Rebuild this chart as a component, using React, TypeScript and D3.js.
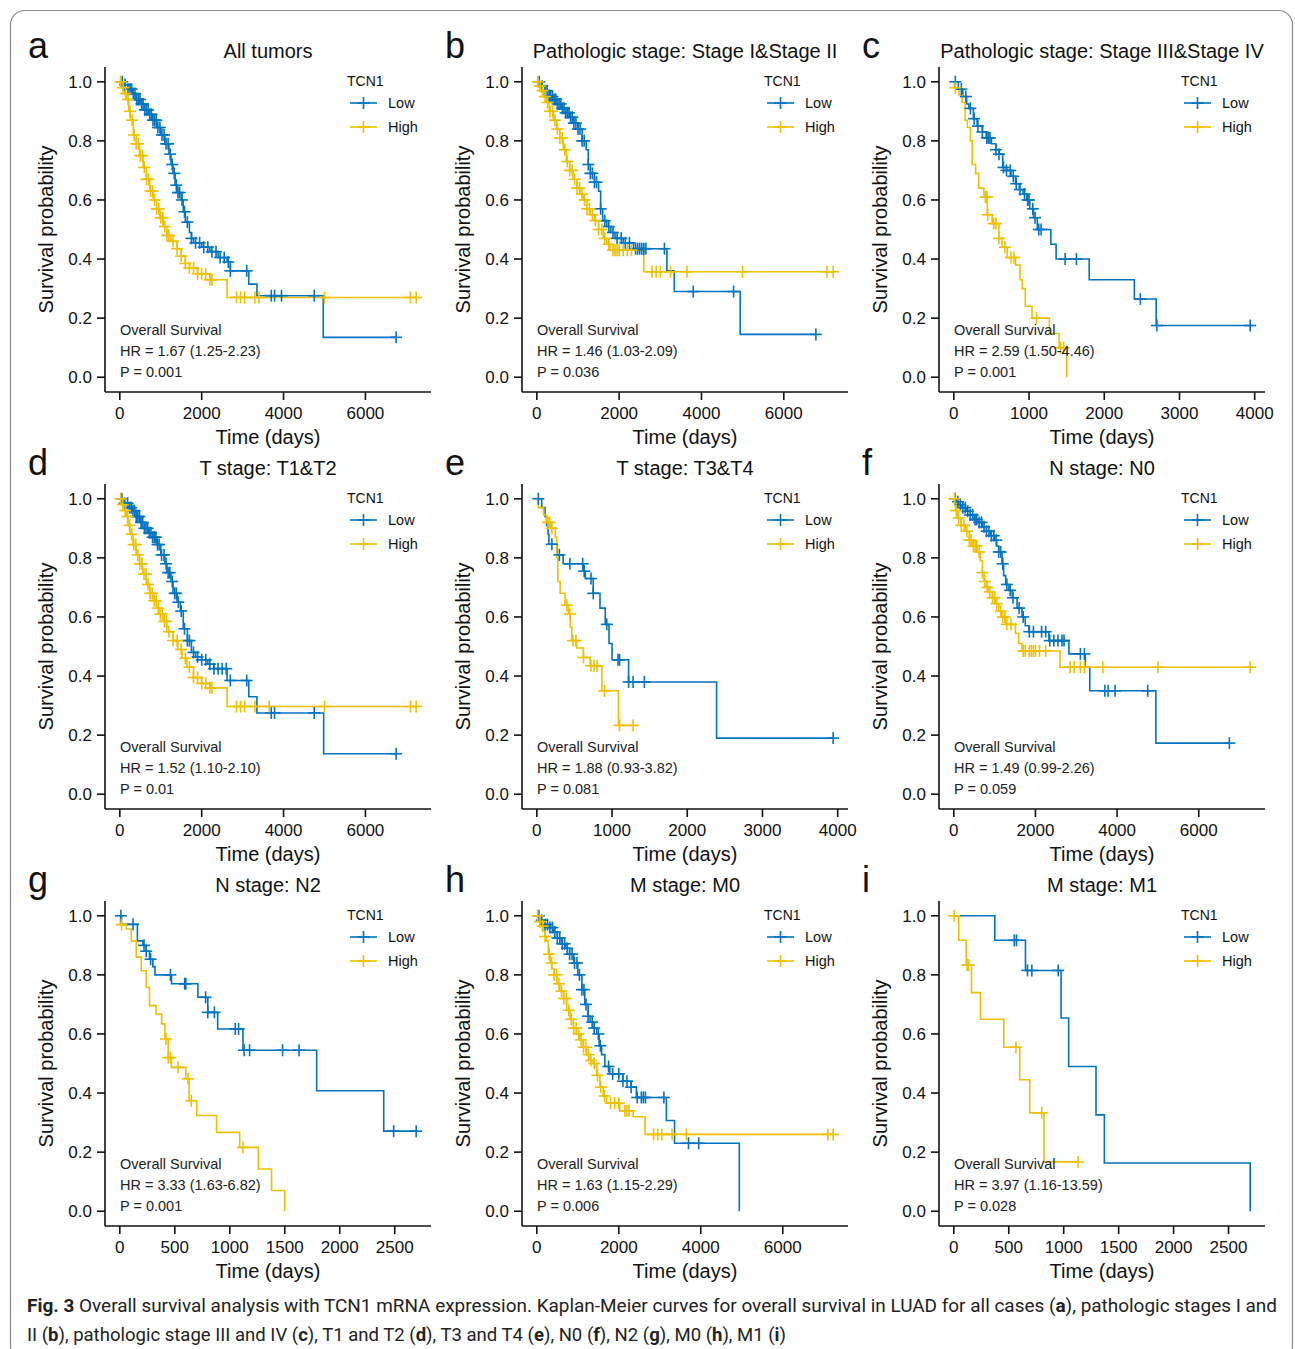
import * as d3 from 'd3'

const BLUE = '#0073C2'
const YELLOW = '#EFC000'
const FONT = "'Liberation Sans', Arial, Helvetica, sans-serif"

// step points [days, survival]; censor marks as days
const lowA = [[0, 1], [100, 0.99], [200, 0.975], [300, 0.96], [400, 0.94], [500, 0.925], [600, 0.905], [700, 0.89], [800, 0.87], [900, 0.845], [1000, 0.82], [1100, 0.79], [1200, 0.755], [1250, 0.72], [1300, 0.69], [1350, 0.65], [1400, 0.625], [1500, 0.6], [1550, 0.56], [1600, 0.525], [1700, 0.49], [1750, 0.47], [1800, 0.455], [2000, 0.44], [2200, 0.425], [2400, 0.405], [2620, 0.39], [2700, 0.36], [3150, 0.315], [3350, 0.276], [4970, 0.135]]
const highA = [[0, 1], [50, 0.98], [120, 0.96], [170, 0.94], [220, 0.9], [260, 0.87], [330, 0.82], [400, 0.79], [480, 0.75], [570, 0.71], [650, 0.67], [730, 0.63], [820, 0.6], [900, 0.57], [980, 0.54], [1060, 0.51], [1150, 0.48], [1250, 0.46], [1400, 0.435], [1500, 0.41], [1600, 0.385], [1700, 0.37], [1900, 0.35], [2200, 0.33], [2620, 0.27]]
const lowCensA = [60, 130, 200, 250, 290, 330, 370, 410, 450, 490, 530, 570, 610, 650, 690, 730, 770, 810, 850, 890, 930, 980, 1030, 1080, 1130, 1180, 1230, 1280, 1330, 1380, 1420, 1460, 1520, 1580, 1650, 1750, 1850, 1950, 2050, 2150, 2250, 2350, 2450, 2550, 2650, 2700, 3100, 3700, 3780, 3950, 4750, 6750]
const highCensA = [20, 80, 140, 200, 250, 300, 350, 400, 450, 500, 550, 600, 650, 700, 750, 800, 850, 900, 950, 1000, 1050, 1100, 1150, 1200, 1300, 1400, 1500, 1600, 1700, 1800, 1900, 2000, 2100, 2200, 2250, 2850, 2950, 3050, 3300, 3400, 5000, 7100, 7240]

const lowB = [[0, 1], [100, 0.985], [200, 0.97], [300, 0.95], [400, 0.94], [500, 0.925], [600, 0.91], [700, 0.895], [800, 0.88], [900, 0.86], [1000, 0.84], [1100, 0.8], [1200, 0.77], [1250, 0.72], [1300, 0.69], [1400, 0.66], [1500, 0.63], [1550, 0.57], [1600, 0.53], [1700, 0.51], [1800, 0.49], [1900, 0.47], [2100, 0.455], [2350, 0.435], [3160, 0.36], [3340, 0.29], [4940, 0.145]]
const highB = [[0, 1], [50, 0.985], [100, 0.97], [160, 0.95], [230, 0.93], [300, 0.9], [400, 0.87], [480, 0.84], [560, 0.81], [640, 0.77], [720, 0.73], [800, 0.7], [880, 0.67], [970, 0.64], [1050, 0.62], [1130, 0.6], [1220, 0.57], [1300, 0.55], [1400, 0.53], [1500, 0.5], [1620, 0.47], [1700, 0.45], [1780, 0.43], [2600, 0.357]]
const lowCensB = [60, 130, 200, 250, 300, 340, 380, 420, 460, 500, 540, 580, 620, 660, 700, 740, 780, 820, 860, 900, 950, 1000, 1050, 1100, 1150, 1250, 1300, 1350, 1400, 1450, 1550, 1650, 1750, 1850, 1950, 2050, 2150, 2250, 2400, 2450, 2500, 2550, 2600, 2650, 3100, 3800, 4780, 6780]
const highCensB = [20, 80, 140, 200, 260, 320, 380, 440, 500, 560, 620, 680, 740, 800, 860, 920, 980, 1040, 1100, 1160, 1220, 1280, 1350, 1420, 1500, 1580, 1650, 1750, 1850, 1900, 1950, 2000, 2100, 2200, 2300, 2800, 2900, 3000, 3250, 3650, 5000, 7050, 7200]

const lowC = [[0, 1], [60, 0.975], [120, 0.95], [170, 0.925], [200, 0.91], [260, 0.875], [310, 0.85], [380, 0.83], [430, 0.81], [500, 0.79], [560, 0.77], [600, 0.755], [650, 0.71], [700, 0.7], [760, 0.68], [820, 0.655], [870, 0.635], [920, 0.62], [970, 0.6], [1010, 0.57], [1060, 0.54], [1110, 0.5], [1290, 0.45], [1360, 0.4], [1800, 0.33], [2400, 0.265], [2690, 0.175]]
const highC = [[0, 1], [5, 0.98], [70, 0.955], [110, 0.93], [150, 0.87], [180, 0.845], [220, 0.8], [245, 0.72], [290, 0.69], [330, 0.64], [400, 0.61], [445, 0.55], [510, 0.52], [600, 0.47], [640, 0.44], [710, 0.405], [820, 0.38], [880, 0.33], [910, 0.3], [950, 0.24], [1040, 0.2], [1270, 0.148], [1400, 0.1], [1500, 0]]
const lowCensC = [20, 100, 160, 220, 270, 320, 380, 440, 460, 480, 560, 600, 660, 700, 750, 790, 830, 880, 940, 980, 1000, 1050, 1080, 1130, 1160, 1480, 1630, 2480, 2700, 3940]
const highCensC = [20, 420, 440, 450, 530, 560, 600, 680, 760, 800, 1100, 1420, 1460]

const lowD = [[0, 1], [100, 0.985], [200, 0.97], [300, 0.96], [400, 0.94], [500, 0.92], [600, 0.9], [700, 0.885], [800, 0.87], [900, 0.845], [1000, 0.81], [1100, 0.78], [1150, 0.75], [1250, 0.72], [1300, 0.68], [1400, 0.65], [1480, 0.62], [1550, 0.56], [1650, 0.52], [1750, 0.48], [1850, 0.465], [2000, 0.455], [2150, 0.44], [2300, 0.425], [2620, 0.385], [3150, 0.33], [3350, 0.275], [4980, 0.137]]
const highD = [[0, 1], [50, 0.98], [110, 0.96], [160, 0.94], [200, 0.91], [250, 0.88], [320, 0.845], [400, 0.81], [480, 0.78], [560, 0.745], [650, 0.71], [730, 0.68], [820, 0.655], [900, 0.63], [980, 0.61], [1060, 0.585], [1150, 0.55], [1300, 0.52], [1420, 0.49], [1520, 0.46], [1640, 0.43], [1800, 0.395], [2000, 0.375], [2200, 0.36], [2620, 0.297]]
const lowCensD = [50, 120, 190, 240, 280, 320, 360, 400, 440, 480, 520, 560, 600, 640, 680, 720, 760, 800, 840, 880, 920, 960, 1020, 1080, 1130, 1180, 1220, 1280, 1340, 1380, 1430, 1500, 1580, 1650, 1700, 1800, 1900, 2000, 2100, 2200, 2300, 2400, 2500, 2600, 2700, 3100, 3700, 3780, 4750, 6750]
const highCensD = [20, 70, 130, 190, 240, 290, 340, 390, 440, 490, 540, 590, 640, 690, 740, 790, 840, 890, 940, 990, 1040, 1090, 1140, 1200, 1300, 1400, 1500, 1600, 1700, 1800, 1900, 2000, 2100, 2200, 2250, 2850, 2950, 3050, 3300, 3650, 5000, 7100, 7240]

const lowE = [[0, 1], [65, 0.97], [110, 0.94], [130, 0.91], [150, 0.88], [160, 0.846], [270, 0.81], [350, 0.78], [620, 0.755], [645, 0.73], [750, 0.68], [840, 0.63], [910, 0.575], [960, 0.51], [1000, 0.455], [1220, 0.38], [2390, 0.19]]
const highE = [[0, 1], [20, 0.97], [90, 0.945], [130, 0.92], [180, 0.9], [245, 0.87], [265, 0.8], [280, 0.72], [310, 0.68], [375, 0.64], [420, 0.61], [445, 0.565], [465, 0.52], [530, 0.495], [620, 0.463], [710, 0.435], [865, 0.35], [1085, 0.233]]
const lowCensE = [20, 200, 300, 440, 610, 630, 720, 750, 930, 1080, 1100, 1220, 1280, 1430, 3940]
const highCensE = [150, 170, 200, 400, 440, 480, 520, 620, 720, 760, 800, 900, 1100, 1280]

const lowF = [[0, 1], [60, 0.99], [120, 0.98], [200, 0.97], [300, 0.958], [400, 0.945], [500, 0.93], [600, 0.92], [700, 0.905], [800, 0.89], [900, 0.875], [1000, 0.86], [1050, 0.84], [1100, 0.82], [1180, 0.78], [1220, 0.74], [1270, 0.71], [1350, 0.69], [1430, 0.665], [1550, 0.63], [1670, 0.6], [1750, 0.57], [1840, 0.55], [2330, 0.52], [2820, 0.475], [3220, 0.43], [3330, 0.35], [4950, 0.173]]
const highF = [[0, 1], [40, 0.96], [100, 0.935], [180, 0.91], [280, 0.89], [380, 0.86], [450, 0.84], [570, 0.82], [650, 0.79], [700, 0.75], [740, 0.72], [800, 0.7], [860, 0.685], [940, 0.665], [1020, 0.645], [1100, 0.62], [1180, 0.6], [1270, 0.575], [1510, 0.545], [1590, 0.51], [1670, 0.485], [2600, 0.43]]
const lowCensF = [30, 100, 160, 220, 280, 340, 400, 460, 520, 560, 620, 680, 740, 800, 860, 920, 980, 1040, 1100, 1150, 1200, 1300, 1380, 1450, 1600, 1700, 1850, 1950, 2150, 2250, 2350, 2450, 2550, 2650, 2700, 3100, 3200, 3700, 3780, 3950, 4750, 6750]
const highCensF = [20, 60, 120, 180, 250, 320, 380, 420, 480, 520, 560, 620, 700, 760, 820, 880, 950, 1000, 1050, 1150, 1200, 1250, 1300, 1400, 1700, 1750, 1850, 1900, 1950, 2000, 2100, 2250, 2850, 2950, 3100, 3200, 3650, 5000, 7260]

const lowG = [[0, 1], [15, 0.971], [160, 0.915], [210, 0.9], [240, 0.88], [270, 0.853], [300, 0.828], [320, 0.8], [470, 0.77], [710, 0.724], [800, 0.673], [890, 0.617], [1120, 0.545], [1790, 0.408], [2400, 0.271]]
const highG = [[0, 1], [5, 0.97], [60, 0.955], [105, 0.915], [150, 0.86], [195, 0.814], [240, 0.758], [270, 0.696], [330, 0.667], [380, 0.634], [410, 0.583], [440, 0.52], [470, 0.487], [600, 0.448], [630, 0.374], [700, 0.324], [880, 0.267], [1090, 0.216], [1260, 0.143], [1380, 0.07], [1500, 0]]
const lowCensG = [10, 120, 220, 240, 280, 460, 590, 600, 780, 800, 860, 1050, 1080, 1130, 1180, 1480, 1630, 2490, 2695]
const highCensG = [15, 420, 440, 460, 530, 620, 650, 1120]

const lowH = [[0, 1], [100, 0.985], [200, 0.97], [300, 0.96], [400, 0.945], [500, 0.925], [600, 0.905], [700, 0.89], [800, 0.87], [900, 0.84], [1000, 0.8], [1100, 0.75], [1170, 0.7], [1250, 0.66], [1300, 0.64], [1400, 0.62], [1460, 0.6], [1520, 0.56], [1580, 0.53], [1660, 0.49], [1780, 0.465], [2100, 0.44], [2300, 0.42], [2430, 0.385], [3160, 0.307], [3360, 0.23], [4940, 0]]
const highH = [[0, 1], [50, 0.98], [100, 0.965], [160, 0.95], [200, 0.93], [240, 0.915], [280, 0.87], [330, 0.84], [370, 0.82], [420, 0.8], [490, 0.77], [560, 0.745], [650, 0.72], [730, 0.68], [810, 0.65], [890, 0.62], [970, 0.6], [1050, 0.58], [1130, 0.555], [1220, 0.53], [1300, 0.51], [1380, 0.5], [1460, 0.46], [1540, 0.42], [1620, 0.39], [1700, 0.366], [2020, 0.34], [2350, 0.32], [2640, 0.26]]
const lowCensH = [50, 120, 200, 260, 320, 380, 440, 500, 560, 620, 680, 740, 800, 860, 920, 980, 1040, 1100, 1150, 1200, 1250, 1350, 1400, 1500, 1550, 1750, 1850, 2000, 2100, 2200, 2300, 2450, 2550, 2600, 2650, 3100, 3700, 3950]
const highCensH = [20, 80, 140, 200, 300, 360, 420, 480, 540, 600, 660, 720, 780, 840, 900, 960, 1020, 1080, 1140, 1200, 1260, 1320, 1400, 1480, 1560, 1650, 1800, 1900, 2000, 2150, 2200, 2250, 2850, 2950, 3050, 3300, 3650, 7100, 7230]

const lowI = [[0, 1], [373, 0.917], [652, 0.815], [976, 0.654], [1045, 0.49], [1294, 0.326], [1370, 0.163], [2697, 0]]
const highI = [[0, 1], [45, 0.917], [112, 0.833], [161, 0.74], [242, 0.65], [455, 0.555], [600, 0.445], [691, 0.333], [820, 0.167]]
const lowCensI = [550, 570, 670, 710, 950]
const highCensI = [3, 120, 135, 565, 800, 1130]

const ticksLong = [0, 2000, 4000, 6000]
const ticksMid = [0, 1000, 2000, 3000, 4000]
const ticksShort = [0, 500, 1000, 1500, 2000, 2500]
const yTicks = [0, 0.2, 0.4, 0.6, 0.8, 1]

const panels = [
  { letter: 'a', title: 'All tumors', low: lowA, high: highA, lowCens: lowCensA, highCens: highCensA, ticks: ticksLong, hr: 'HR = 1.67 (1.25-2.23)', p: 'P = 0.001' },
  { letter: 'b', title: 'Pathologic stage: Stage I&Stage II', low: lowB, high: highB, lowCens: lowCensB, highCens: highCensB, ticks: ticksLong, hr: 'HR = 1.46 (1.03-2.09)', p: 'P = 0.036' },
  { letter: 'c', title: 'Pathologic stage: Stage III&Stage IV', low: lowC, high: highC, lowCens: lowCensC, highCens: highCensC, ticks: ticksMid, hr: 'HR = 2.59 (1.50-4.46)', p: 'P = 0.001' },
  { letter: 'd', title: 'T stage: T1&T2', low: lowD, high: highD, lowCens: lowCensD, highCens: highCensD, ticks: ticksLong, hr: 'HR = 1.52 (1.10-2.10)', p: 'P = 0.01' },
  { letter: 'e', title: 'T stage: T3&T4', low: lowE, high: highE, lowCens: lowCensE, highCens: highCensE, ticks: ticksMid, hr: 'HR = 1.88 (0.93-3.82)', p: 'P = 0.081' },
  { letter: 'f', title: 'N stage: N0', low: lowF, high: highF, lowCens: lowCensF, highCens: highCensF, ticks: ticksLong, hr: 'HR = 1.49 (0.99-2.26)', p: 'P = 0.059' },
  { letter: 'g', title: 'N stage: N2', low: lowG, high: highG, lowCens: lowCensG, highCens: highCensG, ticks: ticksShort, hr: 'HR = 3.33 (1.63-6.82)', p: 'P = 0.001' },
  { letter: 'h', title: 'M stage: M0', low: lowH, high: highH, lowCens: lowCensH, highCens: highCensH, ticks: ticksLong, hr: 'HR = 1.63 (1.15-2.29)', p: 'P = 0.006' },
  { letter: 'i', title: 'M stage: M1', low: lowI, high: highI, lowCens: lowCensI, highCens: highCensI, ticks: ticksShort, hr: 'HR = 3.97 (1.16-13.59)', p: 'P = 0.028' },
]

function survAt(steps, t) {
  let s = 1
  for (const [ti, si] of steps) if (ti <= t) s = si
  return s
}

function pathPoints(steps, cens) {
  const last = steps[steps.length - 1]
  const endT = Math.max(last[0], d3.max(cens) || 0)
  return endT > last[0] ? [...steps, [endT, last[1]]] : steps
}

function Cross({ cx, cy, color, r = 6 }) {
  return (
    <g stroke={color} strokeWidth={1.6}>
      <line x1={cx - r} x2={cx + r} y1={cy} y2={cy} />
      <line x1={cx} x2={cx} y1={cy - r} y2={cy + r} />
    </g>
  )
}

function KMPanel({ cfg, col, row }) {
  const left = 105
  const right = 431
  const top = 67
  const bottom = 392
  const tMax = d3.max([...cfg.low, ...cfg.high].map((d) => d[0]).concat(cfg.lowCens, cfg.highCens))
  const x = d3.scaleLinear().domain([-0.05 * tMax, 1.05 * tMax]).range([left, right])
  const y = d3.scaleLinear().domain([-0.05, 1.05]).range([bottom, top])
  const line = d3
    .line()
    .x((d) => x(d[0]))
    .y((d) => y(d[1]))
    .curve(d3.curveStepAfter)
  const cx = (left + right) / 2
  const series = [
    { steps: cfg.low, cens: cfg.lowCens, color: BLUE },
    { steps: cfg.high, cens: cfg.highCens, color: YELLOW },
  ]

  return (
    <g transform={`translate(${col * 417},${row * 417})`} fontFamily={FONT}>
      <text x={28} y={58} fontSize={36} fill="#111">{cfg.letter}</text>
      <text x={cx} y={58} fontSize={20} textAnchor="middle" fill="#111">{cfg.title}</text>

      {series.map((s, i) => (
        <path key={i} d={line(pathPoints(s.steps, s.cens))} fill="none" stroke={s.color} strokeWidth={1.6} />
      ))}
      {series.map((s, i) => (
        <g key={i}>
          {s.cens.map((t, j) => (
            <Cross key={j} cx={x(t)} cy={y(survAt(s.steps, t))} color={s.color} />
          ))}
        </g>
      ))}

      <g stroke="#111" strokeWidth={1.6}>
        <line x1={left} x2={left} y1={top} y2={bottom} />
        <line x1={left} x2={right} y1={bottom} y2={bottom} />
        {yTicks.map((v) => (
          <line key={v} x1={left - 8} x2={left} y1={y(v)} y2={y(v)} />
        ))}
        {cfg.ticks.map((v) => (
          <line key={v} x1={x(v)} x2={x(v)} y1={bottom} y2={bottom + 8} />
        ))}
      </g>
      {yTicks.map((v) => (
        <text key={v} x={92} y={y(v)} dy="0.36em" fontSize={17} textAnchor="end" fill="#111">{v.toFixed(1)}</text>
      ))}
      {cfg.ticks.map((v) => (
        <text key={v} x={x(v)} y={419} fontSize={17} textAnchor="middle" fill="#111">{v}</text>
      ))}
      <text x={cx} y={444} fontSize={20} textAnchor="middle" fill="#111">Time (days)</text>
      <text transform={`translate(53,${(top + bottom) / 2}) rotate(-90)`} fontSize={20} textAnchor="middle" fill="#111">Survival probability</text>

      <text x={347} y={86} fontSize={14} fill="#111">TCN1</text>
      {series.map((s, i) => (
        <g key={i}>
          <line x1={350} x2={377} y1={103 + i * 24} y2={103 + i * 24} stroke={s.color} strokeWidth={1.6} />
          <Cross cx={363.5} cy={103 + i * 24} color={s.color} />
          <text x={388} y={108 + i * 24} fontSize={14.5} fill="#111">{i === 0 ? 'Low' : 'High'}</text>
        </g>
      ))}

      <g fontSize={14.5} fill="#222">
        <text x={120} y={335}>Overall Survival</text>
        <text x={120} y={356}>{cfg.hr}</text>
        <text x={120} y={377}>{cfg.p}</text>
      </g>
    </g>
  )
}

export default function App() {
  const capFont = "'Liberation Sans Narrow', 'Roboto', sans-serif"
  const B = ({ children }) => <tspan fontWeight="bold">{children}</tspan>
  return (
    <svg width={1295} height={1349} style={{ position: 'absolute', left: 0, top: 0, background: '#fff' }}>
      <rect x={0} y={0} width={1295} height={1349} fill="#fff" />
      <rect x={10.5} y={10.5} width={1282} height={1350} rx={14} fill="none" stroke="#8a8a8a" strokeWidth={1.2} />
      {panels.map((cfg, i) => (
        <KMPanel key={cfg.letter} cfg={cfg} col={i % 3} row={Math.floor(i / 3)} />
      ))}
      <g fontFamily={capFont} fontSize={18} fill="#222" style={{ whiteSpace: 'pre' }}>
        <text x={27} y={1312} textLength={1250} lengthAdjust="spacingAndGlyphs">
          <B>Fig. 3</B>{'  Overall survival analysis with TCN1 mRNA expression. Kaplan-Meier curves for overall survival in LUAD for all cases ('}<B>a</B>{'), pathologic stages I and'}
        </text>
        <text x={27} y={1341} textLength={759} lengthAdjust="spacingAndGlyphs">
          {'II ('}<B>b</B>{'), pathologic stage III and IV ('}<B>c</B>{'), T1 and T2 ('}<B>d</B>{'), T3 and T4 ('}<B>e</B>{'), N0 ('}<B>f</B>{'), N2 ('}<B>g</B>{'), M0 ('}<B>h</B>{'), M1 ('}<B>i</B>{')'}
        </text>
      </g>
    </svg>
  )
}
